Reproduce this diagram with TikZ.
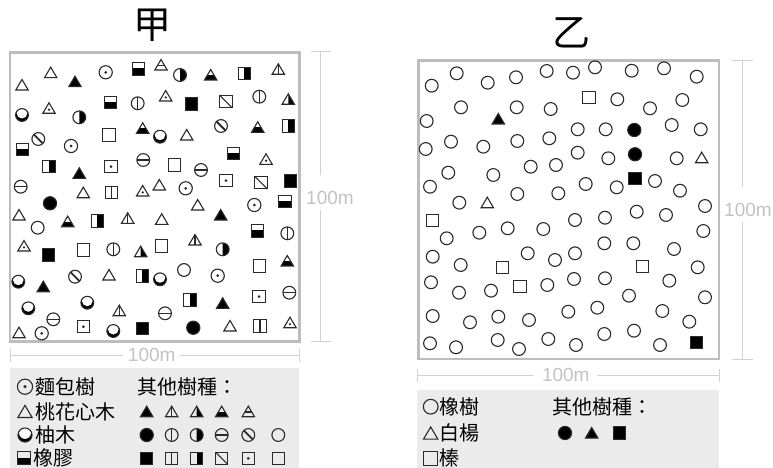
\documentclass[tikz,border=0pt]{standalone}
\usepackage{fontspec}
\newfontfamily\cjk{Noto Sans CJK TC}
\newfontfamily\lat{Liberation Sans}
\definecolor{symc}{HTML}{2A2A2A}
\definecolor{framec}{HTML}{BDBDBD}
\definecolor{dimc}{HTML}{D2D2D2}
\definecolor{dimt}{HTML}{C2C2C2}
\definecolor{legbg}{HTML}{EBEBEB}
\tikzset{
 sl/.style={draw=symc,line width=1.1pt},
 sf/.style={fill=black},
 cjkt/.style={font=\cjk\fontsize{20}{20}\selectfont, inner sep=0pt, anchor=west, text=black},
 dimtxt/.style={font=\lat\fontsize{19}{19}\selectfont, text=dimt, inner sep=0pt},
 dimline/.style={draw=dimc, line width=1pt},
 frame/.style={draw=framec, line width=2.6pt},
 % triangles
 pics/tO/.style={code={\draw[sl] (0,-5.5)--(6.2,5)--(-6.2,5)--cycle;}},
 pics/tD/.style={code={\draw[sl] (0,-5.5)--(6.2,5)--(-6.2,5)--cycle; \fill[symc] (0,1.4) circle (1.3);}},
 pics/tF/.style={code={\filldraw[sl,sf] (0,-5.5)--(6.2,5)--(-6.2,5)--cycle;}},
 pics/tV/.style={code={\draw[sl] (0,-5.5)--(6.2,5)--(-6.2,5)--cycle; \draw[sl] (0,-5.5)--(0,5);}},
 pics/tR/.style={code={\fill[black] (0,-5.5)--(6.2,5)--(0,5)--cycle; \draw[sl] (0,-5.5)--(6.2,5)--(-6.2,5)--cycle;}},
 pics/tB/.style={code={\begin{scope}\clip (0,-5.5)--(6.2,5)--(-6.2,5)--cycle; \fill[black] (-7,-0.2) rectangle (7,5);\end{scope}\draw[sl] (0,-5.5)--(6.2,5)--(-6.2,5)--cycle;}},
 pics/tH/.style={code={\draw[sl] (0,-5.5)--(6.2,5)--(-6.2,5)--cycle; \draw[draw=symc,line width=1.7pt] (-3.6,0.6)--(3.6,0.6);}},
 % circles
 pics/cO/.style={code={\draw[sl] (0,0) circle (6.4);}},
 pics/cD/.style={code={\draw[sl] (0,0) circle (6.6); \fill[symc] (0,0) circle (1.5);}},
 pics/cF/.style={code={\filldraw[sl,sf] (0,0) circle (6.6);}},
 pics/cV/.style={code={\draw[sl] (0,0) circle (6.4); \draw[sl] (0,-6.4)--(0,6.4);}},
 pics/cH/.style={code={\draw[sl] (0,0) circle (6.4); \draw[sl] (-6.4,0)--(6.4,0);}},
 pics/cS/.style={code={\draw[sl] (0,0) circle (6.4); \draw[draw=symc,line width=1.8pt] (-4.5,-4.5)--(4.5,4.5);}},
 pics/cR/.style={code={\begin{scope}\clip (0,-7) rectangle (7,7); \fill[black] (0,0) circle (6.4);\end{scope}\draw[sl] (0,0) circle (6.4);}},
 pics/cC/.style={code={\begin{scope}\clip (0,0) circle (6.4); \fill[black] (0,0) circle (6.4); \fill[white] (0,-1.9) circle (5.4);\end{scope}\draw[sl] (0,0) circle (6.4);}},
 % squares
 pics/sO/.style={code={\draw[sl] (-6.2,-6.2) rectangle (6.2,6.2);}},
 pics/sF/.style={code={\filldraw[sl,sf] (-6.2,-6.2) rectangle (6.2,6.2);}},
 pics/sB/.style={code={\fill[black] (-6.2,-0.6) rectangle (6.2,6.2); \draw[sl] (-6.2,-6.2) rectangle (6.2,6.2);}},
 pics/sR/.style={code={\fill[black] (0,-6.2) rectangle (6.2,6.2); \draw[sl] (-6.2,-6.2) rectangle (6.2,6.2);}},
 pics/sV/.style={code={\draw[sl] (-6.2,-6.2) rectangle (6.2,6.2); \draw[sl] (0,-6.2)--(0,6.2);}},
 pics/sX/.style={code={\draw[sl] (-6.2,-6.2) rectangle (6.2,6.2); \draw[sl] (-6.2,-6.2)--(6.2,6.2);}},
 pics/sD/.style={code={\draw[sl] (-6.2,-6.2) rectangle (6.2,6.2); \fill[symc] (0,0) circle (1.5);}},
}
\newcommand\symlist[1]{\foreach \t/\x/\y in {#1} {\edef\tmp{\noexpand\pic at (\x,\y) {\t};}\tmp}}
\begin{document}
\begin{tikzpicture}[x=1pt,y=-1pt]
\useasboundingbox (0,0) rectangle (773,468);
% legend backgrounds
\fill[legbg] (10,368) rectangle (298.5,468);
\fill[legbg] (417.3,390) rectangle (719.3,468);
% titles
\node[font=\cjk\fontsize{38}{38}\selectfont, inner sep=0pt] (titleA) at (152.5,25) {甲};
\node[font=\cjk\fontsize{38}{38}\selectfont, inner sep=0pt] (titleB) at (571,33) {乙};
% frames
\draw[frame] (10,52.5) rectangle (299.5,341.7);
\draw[frame] (418.3,60.7) rectangle (719,359);
% dimension lines A
\draw[dimline] (10,355) -- (123,355) (180,355) -- (299.5,355);
\draw[dimline] (10,348.5) -- (10,361.5) (299.5,348.5) -- (299.5,361.5);
\node[dimtxt] (dimAb) at (151.7,355) {100m};
\draw[dimline] (320.7,52) -- (320.7,175) (320.7,210) -- (320.7,341.7);
\draw[dimline] (311,52) -- (331,52) (311,341.7) -- (331,341.7);
\node[dimtxt] (dimAr) at (330,198.3) {100m};
% dimension lines B
\draw[dimline] (417.3,375) -- (533.3,375) (596.7,375) -- (719.3,375);
\draw[dimline] (417.3,368.5) -- (417.3,381.5) (719.3,368.5) -- (719.3,381.5);
\node[dimtxt] (dimBb) at (565.8,375) {100m};
\draw[dimline] (742.5,60.7) -- (742.5,187) (742.5,222) -- (742.5,359);
\draw[dimline] (732,60.7) -- (753,60.7) (732,359) -- (753,359);
\node[dimtxt] (dimBr) at (748,210) {100m};
% plot A symbols
\symlist{tO/50.7/72.7, tO/22/85, tO/83.3/192.7, tO/159.3/185, tO/186.7/135, tO/19/215, tO/109/275, tO/19/332.7, tO/197.7/205, tO/161.7/219.3, tO/230/326,
tD/49/108.3, tD/142.7/191, tD/165.7/96, tD/266/159.3, tD/24/246, tD/290/322.7,
tF/75/81.7, tF/79.3/173.3, tF/43.3/286.7, tF/220.7/215, tF/222.7/303.3,
tB/142.7/128.3, tB/210.7/75, tB/257.7/127.3, tB/67.7/221.7, tB/287.3/261,
tH/161/65,
tV/278.3/69.3, tV/127.7/218.3, tV/119.3/310.7, tV/195/240,
tR/288.3/99.3, tR/140.7/251.7}
\symlist{cD/105.7/72.3, cD/71/146, cD/185.7/188.3, cD/41.7/333.3, cD/254.3/205, cD/217.7/275.7,
cC/22/115, cC/160/136.7, cC/18.3/281.7, cC/28.3/308.3, cC/87.3/302.7, cC/113.3/331, cC/160/279.3,
cR/79.3/117.3, cR/180/75, cR/222.7/249.3,
cV/137.7/103.3, cV/259.3/96.7, cV/113.3/249.3, cV/287.3/233.3,
cS/38.3/139, cS/221/126, cS/75/276.7,
cH/143.3/160, cH/20.7/186.7, cH/201/170, cH/53.3/319.3, cH/289.3/292.7, cH/165/313.3,
cF/50/203.3, cF/193.3/327.7,
cO/37.7/227.7, cO/184/270}
\symlist{sB/138.3/69, sB/110.7/102.7, sB/22.7/149.3, sB/233.3/153.3, sB/285/201.7, sB/257.3/231,
sO/109/135, sO/174.3/165, sO/83.3/250, sO/161.7/246, sO/259.3/266,
sR/49/166.7, sR/244.3/73.3, sR/288.3/126, sR/97.3/221, sR/142.3/276, sR/190/300,
sD/111/166.7, sD/226/180.7, sD/83.3/326.7, sD/259/296.7,
sV/111.7/192.7, sV/260/326,
sX/226/101.7, sX/261/182.7,
sF/191.7/104, sF/290.7/181, sF/48.3/255, sF/142.3/328.3}
% plot B symbols
\symlist{cO/431.7/85.7, cO/456.7/73.3, cO/487.7/82.7, cO/516/77.3, cO/546.7/71, cO/573/72.7, cO/595/67.3, cO/631.7/70.7, cO/664/68.3, cO/696.7/76.7,
cO/461/107.3, cO/516.7/107.3, cO/550.7/109, cO/617.3/99.3, cO/650/108.3, cO/682.3/100,
cO/426.7/121,
cO/425.7/149, cO/451/141.7, cO/483.3/146.7, cO/517.3/141, cO/549.3/138.3, cO/577.7/129.3, cO/605.7/129.3, cO/671.7/125, cO/700.7/129.3,
cO/577.7/152.7, cO/608.3/158.3, cO/676.7/158.3,
cO/448.3/172.7, cO/493.3/175, cO/530.7/166.7, cO/556/165,
cO/430/186.7, cO/517.3/194, cO/558.3/193.3, cO/585.7/184, cO/616.7/187.3, cO/655/181, cO/680/190.7,
cO/459.3/202.7, cO/705/206}
\symlist{cO/446.7/238.3, cO/479.3/232.7, cO/507.7/228.3, cO/543.3/229, cO/575/220, cO/605/217.7, cO/636.7/211.7, cO/666/215, cO/703.3/231,
cO/432.7/256.7, cO/460.7/265, cO/527.7/253.3, cO/555/260, cO/575/253.3, cO/604.3/243.3, cO/633.3/243.3, cO/674/249, cO/697.7/267.3,
cO/431/282.3, cO/459/292.7, cO/491/290.7, cO/547.3/285, cO/574/279, cO/605/278.3, cO/669.3/280.7, cO/629/295.7, cO/705/297.3,
cO/432.7/316, cO/470/322.3, cO/498.3/316.7, cO/529/320, cO/568.3/311.7, cO/597.3/307.7, cO/662.3/311, cO/689.3/321.7,
cO/430/343.3, cO/456/347.3, cO/497.7/340, cO/519/349, cO/548.3/339, cO/576/345, cO/604.3/334, cO/634/330.7, cO/660/345}
\symlist{tF/498.3/119, tO/487.3/202.7, tO/701.7/157.7,
sO/589/97.7, sO/432.3/220.7, sO/502.3/267.7, sO/520/286.7, sO/642.7/266.7,
cF/634.3/130, cF/635/154.3, sF/635/178.3, sF/696.7/342.3}
% legend A
\pic[scale=1.15] at (25,386.7) {cD};
\node[cjkt] (lgA1) at (35,386.7) {麵包樹};
\pic[scale=1.15] at (25,411.7) {tO};
\node[cjkt] (lgA2) at (35,411.7) {桃花心木};
\pic[scale=1.1] at (25,435) {cC};
\node[cjkt] (lgA3) at (35,435) {柚木};
\pic[scale=1.05] at (24,458.3) {sB};
\node[cjkt] (lgA4) at (33,458.3) {橡膠};
\node[cjkt] (lgA5) at (137.5,386.7) {其他樹種：};
\symlist{tF/146.7/411.7, tV/171.7/411.7, tR/196.7/411.7, tB/221.7/411.7, tH/248.3/411.7,
cF/146.7/435, cV/171.7/435, cR/196.7/435, cH/221.7/435, cS/248.3/435, cO/278.3/435,
sF/146.7/458.3, sV/171.7/458.3, sR/196.7/458.3, sX/221.7/458.3, sD/248.3/458.3, sO/278.3/458.3}
% legend B
\pic[scale=1.15] at (430.7,406.7) {cO};
\node[cjkt] (lgB1) at (439.5,406.7) {橡樹};
\pic[scale=1.15] at (430.7,433.3) {tO};
\node[cjkt] (lgB2) at (439.5,433.3) {白楊};
\pic[scale=1.1] at (430.7,458.3) {sO};
\node[cjkt] (lgB3) at (439.5,458.3) {榛};
\node[cjkt] (lgB4) at (552.5,406.7) {其他樹種：};
\symlist{cF/565/433, tF/591.7/433, sF/619.3/433}
\end{tikzpicture}
\end{document}
